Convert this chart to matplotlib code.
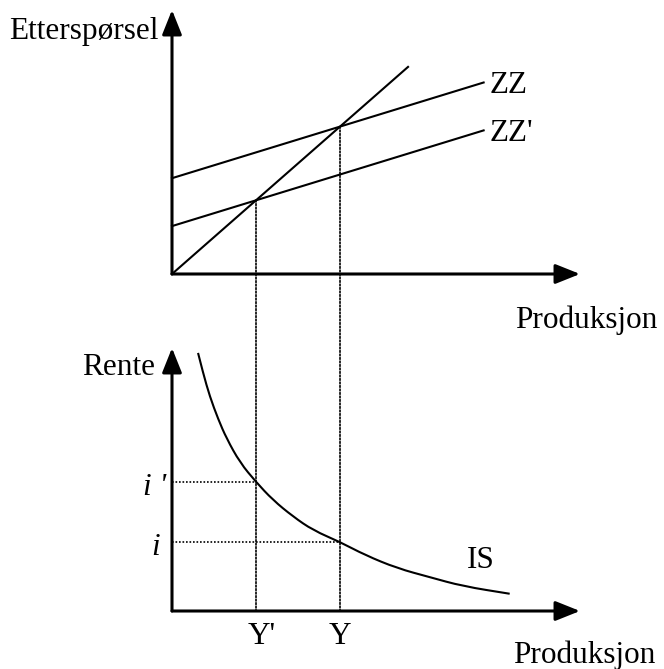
import matplotlib
matplotlib.use("Agg")
import matplotlib.pyplot as plt
from matplotlib.patches import ConnectionPatch, PathPatch
from matplotlib.path import Path

plt.rcParams['font.family'] = ['Liberation Serif', 'DejaVu Serif']

# --- data (model units) ---
zz_intercepts = [1.3, 0.65]      # ZZ, ZZ'
zz_slope = 0.35
zz_labels = ["ZZ", "ZZ'"]
zz_xend = 3.71
line45_xend = 2.81
y_eq = [1.0, 2.0]                # Y', Y
y_labels = ["Y'", "Y"]
i_eq = [1.87, 1.0]               # i', i
i_labels = ["i '", "i"]

is_x = [0.31, 0.37, 0.45, 0.55, 0.65, 0.81, 1.0, 1.2, 1.44, 1.68, 2.0, 2.3, 2.68, 3.07, 3.46, 4.02]
is_y = [3.74, 3.45, 3.11, 2.78, 2.50, 2.15, 1.87, 1.61, 1.37, 1.17, 1.0, 0.81, 0.62, 0.49, 0.36, 0.25]

W, H = 664, 669
fig = plt.figure(figsize=(W / 100, H / 100), dpi=100)

def fpos(x, y):
    return x / W, 1 - y / H

ux, uy_top, uy_bot = 84.0, 73.7, 69.0   # pixels per model unit
ox, oy_top, oy_bot = 172, 274, 611       # origins in pixels
right = 600

ax1 = fig.add_axes([ox / W, 1 - oy_top / H, (right - ox) / W, oy_top / H])
ax1.set_xlim(0, (right - ox) / ux)
ax1.set_ylim(0, oy_top / uy_top)
ax2 = fig.add_axes([ox / W, 1 - oy_bot / H, (right - ox) / W, (oy_bot - 330) / H])
ax2.set_xlim(0, (right - ox) / ux)
ax2.set_ylim(0, (oy_bot - 330) / uy_bot)
for ax in (ax1, ax2):
    ax.axis('off')

lw_axis = 2.2
lw_curve = 1.5
dot = dict(color='black', lw=1.2, linestyle=(0, (1, 1.1)))
arrow = dict(arrowstyle='-|>,head_length=0.75,head_width=0.3', lw=lw_axis,
             color='black', mutation_scale=20, shrinkA=0, shrinkB=0)

def axis_arrows(ax, xtip, ytip):
    ax.annotate('', xy=(xtip, 0), xytext=(0, 0), arrowprops=arrow, annotation_clip=False)
    ax.annotate('', xy=(0, ytip), xytext=(0, 0), arrowprops=arrow, annotation_clip=False)

axis_arrows(ax1, (580 - ox) / ux, (oy_top - 10) / uy_top)
axis_arrows(ax2, (580 - ox) / ux, (oy_bot - 348) / uy_bot)

# top panel: 45 degree line and ZZ lines
ax1.plot([0, line45_xend], [0, line45_xend], color='black', lw=lw_curve, clip_on=False)
for c, lab in zip(zz_intercepts, zz_labels):
    ax1.plot([0, zz_xend], [c, c + zz_slope * zz_xend], color='black', lw=lw_curve, clip_on=False)
    ax1.annotate(lab, xy=(zz_xend, c + zz_slope * zz_xend), xytext=(4, -2),
                 textcoords='offset points', fontsize=22.5, va='center', ha='left',
                 annotation_clip=False)

# bottom panel: IS curve, drawn as a smooth quadratic path through the read points
pts = list(zip(is_x, is_y))
verts = [pts[0]]
codes = [Path.MOVETO]
for k in range(1, len(pts) - 1):
    mid = ((pts[k][0] + pts[k + 1][0]) / 2, (pts[k][1] + pts[k + 1][1]) / 2)
    verts += [pts[k], mid]
    codes += [Path.CURVE3, Path.CURVE3]
verts.append(pts[-1])
codes.append(Path.LINETO)
ax2.add_patch(PathPatch(Path(verts, codes), facecolor='none', edgecolor='black',
                        lw=lw_curve, clip_on=False))

# dotted guides
for c, yv, lab in zip(sorted(zz_intercepts), y_eq, y_labels):
    con = ConnectionPatch(xyA=(yv, c + zz_slope * yv), coordsA=ax1.transData,
                          xyB=(yv, 0), coordsB=ax2.transData, **dot)
    fig.add_artist(con)
    ax2.annotate(lab, xy=(yv, 0), xytext=(0 if lab == 'Y' else 4, -8),
                 textcoords='offset points', fontsize=22.5, ha='center', va='top',
                 annotation_clip=False)
for yv, iv, lab in zip(y_eq, i_eq, i_labels):
    ax2.plot([0, yv], [iv, iv], clip_on=False, **dot)
    ax2.annotate(lab, xy=(0, iv), xytext=(-4 if "'" in lab else -9, -4),
                 textcoords='offset points', fontsize=22.5, ha='right', va='center',
                 style='italic', annotation_clip=False)

# free labels
fs = 22.5
fig.text(*fpos(9, 39), "Etterspørsel", fontsize=fs, ha='left', va='baseline')
fig.text(*fpos(515, 328), "Produksjon", fontsize=fs, ha='left', va='baseline')
fig.text(*fpos(155, 375), "Rente", fontsize=fs, ha='right', va='baseline')
fig.text(*fpos(467, 568), "IS", fontsize=fs, ha='left', va='baseline')
fig.text(*fpos(513, 663), "Produksjon", fontsize=fs, ha='left', va='baseline')

fig.savefig("out.png", dpi=100)
